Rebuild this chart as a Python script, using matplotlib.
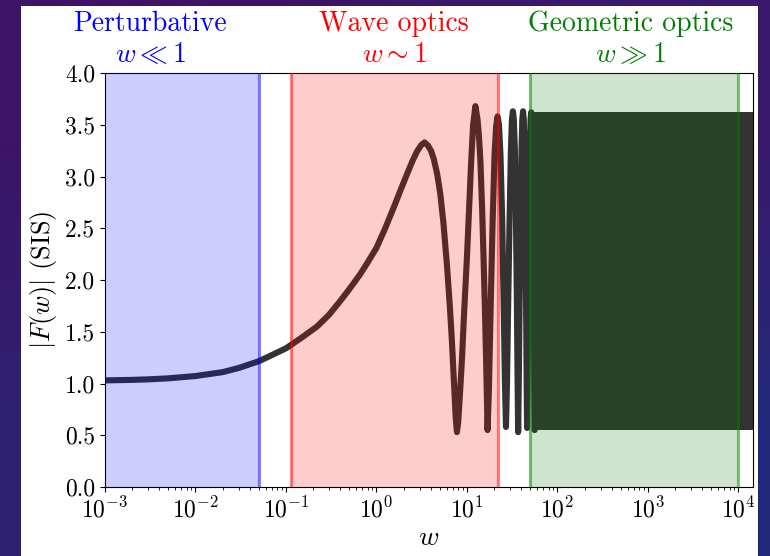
import numpy as np
import matplotlib
matplotlib.use("Agg")
import matplotlib.pyplot as plt
from matplotlib.patches import Rectangle

# |F(w)| for the SIS lens
W_CURVE = [
    1e-3, 2e-3, 3e-3, 5e-3, 1e-2, 2e-2, 0.03, 0.05, 0.07, 0.1,
    0.15, 0.22, 0.3, 0.4, 0.5, 0.66, 0.8, 1.0, 1.25, 1.55,
    1.85, 2.17, 2.5, 2.8, 3.1, 3.4, 3.7, 4.0, 4.3, 4.7,
    5.08, 5.5, 6.03, 6.5, 6.84, 7.2, 7.5, 7.75, 8.0, 8.4,
    8.83, 9.3, 10.0, 10.6, 11.1, 11.7, 12.4, 13.1, 13.6, 14.1,
    14.7, 15.3, 15.8, 16.4, 16.9, 17.5, 18.3, 19.2, 20.2, 21.0,
    21.8, 22.6, 23.5, 24.5, 25.4, 26.3, 27.0, 27.7, 28.6, 29.6,
    30.6, 31.4, 32.2, 33.0, 33.9, 34.8, 35.6, 36.3, 36.8, 37.4,
    38.2, 39.1, 40.1, 40.9, 41.7, 42.5, 43.4, 44.2, 45.0, 45.7,
    46.2, 46.8, 47.6, 48.5, 49.5, 50.5, 51.3, 52.1, 53.0, 53.9,
    54.7, 55.4, 56.0,
]
F_CURVE = [
    1.03, 1.035, 1.04, 1.05, 1.072, 1.11, 1.15, 1.215, 1.275, 1.34,
    1.445, 1.55, 1.665, 1.80, 1.91, 2.055, 2.17, 2.31, 2.50, 2.70,
    2.87, 3.02, 3.15, 3.24, 3.30, 3.33, 3.30, 3.25, 3.17, 3.02,
    2.83, 2.55, 2.13, 1.72, 1.39, 1.00, 0.68, 0.53, 0.62, 0.92,
    1.25, 1.68, 2.22, 2.72, 3.12, 3.50, 3.68, 3.55, 3.38, 3.14,
    2.70, 2.18, 1.72, 1.10, 0.55, 0.95, 1.75, 2.55, 3.22, 3.48,
    3.58, 3.50, 3.20, 2.60, 1.80, 1.00, 0.58, 1.00, 1.80, 2.60,
    3.25, 3.55, 3.63, 3.55, 3.25, 2.60, 1.80, 1.00, 0.53, 1.00,
    1.80, 2.60, 3.25, 3.55, 3.63, 3.55, 3.25, 2.60, 1.80, 1.00,
    0.57, 1.00, 1.80, 2.60, 3.25, 3.55, 3.62, 3.55, 3.25, 2.60,
    1.80, 1.00, 0.55,
]

# fast oscillations merge into a solid band (envelope)
W_BAND = [55.0, 1.45e4]
BAND_LO = [0.55, 0.55]
BAND_HI = [3.62, 3.62]

# regimes
REGIONS = [
    {"lo": 1e-3, "hi": 0.05, "color": "blue", "xtext": 10**-2.5,
     "name": "Perturbative", "cond": r"$w \ll 1$", "edges": [0.05]},
    {"lo": 0.115, "hi": 22.0, "color": "red", "xtext": 1.57,
     "name": "Wave optics", "cond": r"$w \sim 1$", "edges": [0.115, 22.0]},
    {"lo": 50.0, "hi": 1e4, "color": "green", "xtext": 650.0,
     "name": "Geometric optics", "cond": r"$w \gg 1$", "edges": [50.0, 1e4]},
]

Y_TICKS = [0.0, 0.5, 1.0, 1.5, 2.0, 2.5, 3.0, 3.5, 4.0]

plt.rcParams["font.family"] = "serif"
plt.rcParams["font.serif"] = ["cmr10", "DejaVu Serif"]
plt.rcParams["mathtext.fontset"] = "cm"
plt.rcParams["axes.formatter.use_mathtext"] = True

fig = plt.figure(figsize=(7.7, 5.56), dpi=100)

# slide background + white panel
bg = fig.add_axes([0, 0, 1, 1], zorder=-10)
grad = np.array([[[0.24, 0.08, 0.40], [0.22, 0.10, 0.42]],
                 [[0.18, 0.13, 0.44], [0.14, 0.16, 0.48]]])
bg.imshow(grad, extent=[0, 1, 0, 1], aspect="auto", interpolation="bilinear")
bg.add_patch(Rectangle((21 / 770, 0), (758 - 21) / 770, 1 - 6 / 556,
                       facecolor="white", edgecolor="none"))
bg.set_xlim(0, 1)
bg.set_ylim(0, 1)
bg.axis("off")

ax = fig.add_axes([105 / 770, 1 - 487 / 556, (753 - 105) / 770, (487 - 73) / 556])

ax.plot(W_CURVE, F_CURVE, color="0.2", lw=4.4, solid_capstyle="round",
        solid_joinstyle="round", zorder=2)
ax.fill_between(W_BAND, BAND_LO, BAND_HI, color="0.2", lw=0, zorder=2)

tr = ax.get_xaxis_transform()
for r in REGIONS:
    ax.axvspan(r["lo"], r["hi"], color=r["color"], alpha=0.2, lw=0, zorder=3)
    for e in r["edges"]:
        ax.axvline(e, color=r["color"], alpha=0.5, lw=2.2, zorder=3)
    ax.text(r["xtext"], 1.118, r["name"], color=r["color"], fontsize=20,
            ha="center", va="center", transform=tr)
    ax.text(r["xtext"], 1.043, r["cond"], color=r["color"], fontsize=20,
            ha="center", va="center", transform=tr)

ax.set_xscale("log")
ax.set_xlim(1e-3, 1.45e4)
ax.set_ylim(0, 4)
ax.set_yticks(Y_TICKS)
ax.set_yticklabels([f"{v:.1f}" for v in Y_TICKS])
ax.tick_params(labelsize=17)
ax.set_xlabel(r"$w$", fontsize=20, labelpad=2)
ax.set_ylabel(r"$|F(w)|$ (SIS)", fontsize=19)

fig.savefig("out.png", dpi=100)
